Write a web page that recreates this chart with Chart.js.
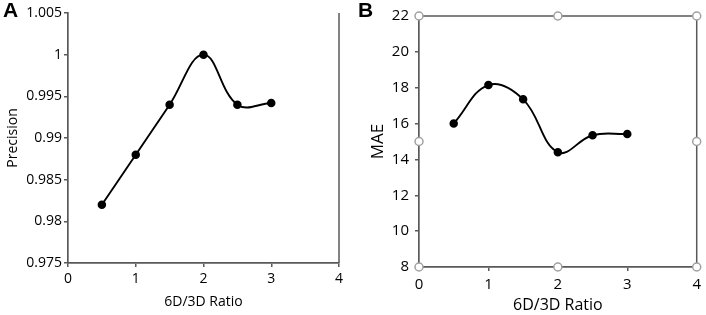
<!DOCTYPE html>
<html>
<head>
<meta charset="utf-8">
<script src="https://cdn.jsdelivr.net/npm/chart.js@4.4.1/dist/chart.umd.min.js"></script>
<style>
  body { margin: 0; background: #fff; }
  #wrap { position: relative; width: 706px; height: 315px; overflow: hidden; }
  canvas { position: absolute; top: 0; }
  .tag { position: absolute; font: bold 21px "Liberation Sans", Arial, sans-serif; color: #000; }
</style>
</head>
<body>
<div id="wrap">
  <canvas id="chartA" width="353" height="315" style="left:0"></canvas>
  <canvas id="chartB" width="353" height="315" style="left:353px"></canvas>
  <div class="tag" style="left:3px;top:-2px">A</div>
  <div class="tag" style="left:358px;top:-2px">B</div>
</div>
<script>
// shared x values (6D/3D ratio)
var ratios = [0.5, 1, 1.5, 2, 2.5, 3];
// panel A
var precision = [0.982, 0.988, 0.994, 1.000, 0.994, 0.9942];
var precisionTicks = [0.975, 0.98, 0.985, 0.99, 0.995, 1, 1.005];
// panel B
var mae = [16.0, 18.15, 17.35, 14.4, 15.35, 15.42];
var maeTicks = [8, 10, 12, 14, 16, 18, 20, 22];
var xTicks = [0, 1, 2, 3, 4];

var axisColor = '#595959';
var fontName = '"Open Sans", sans-serif';

function pts(ys) {
  return ratios.map(function(x, i) { return { x: x, y: ys[i] }; });
}

// right edge line for A, full box + excel handles for B
var framePlugin = {
  id: 'frame',
  afterDraw: function(chart, args, opts) {
    var a = chart.chartArea, ctx = chart.ctx;
    ctx.save();
    ctx.strokeStyle = axisColor;
    ctx.lineWidth = 1.5;
    ctx.beginPath();
    if (opts.box) {
      ctx.moveTo(a.left, a.top);
      ctx.lineTo(a.right, a.top);
    }
    ctx.moveTo(a.right, a.top);
    ctx.lineTo(a.right, a.bottom);
    ctx.stroke();
    if (opts.handles) {
      var mx = (a.left + a.right) / 2, my = (a.top + a.bottom) / 2;
      var hs = [[a.left, a.top], [mx, a.top], [a.right, a.top], [a.left, my], [a.right, my],
                [a.left, a.bottom], [mx, a.bottom], [a.right, a.bottom]];
      ctx.fillStyle = '#fff';
      ctx.strokeStyle = '#a0a0a0';
      ctx.lineWidth = 1.5;
      hs.forEach(function(h) {
        ctx.beginPath();
        ctx.arc(h[0], h[1], 4, 0, Math.PI * 2);
        ctx.fill();
        ctx.stroke();
      });
    }
    ctx.restore();
  }
};

function makeChart(id, ys, yTicks, cfg) {
  var ctx = document.getElementById(id).getContext('2d');
  return new Chart(ctx, {
    type: 'line',
    data: {
      datasets: [{
        data: pts(ys),
        borderColor: '#000',
        backgroundColor: '#000',
        borderWidth: 1.9,
        pointRadius: 3.3,
        pointBackgroundColor: '#000',
        tension: 0.4
      }]
    },
    options: {
      responsive: false,
      animation: false,
      layout: { padding: cfg.padding },
      plugins: {
        legend: { display: false },
        tooltip: { enabled: false },
        frame: { box: cfg.box, handles: cfg.box }
      },
      scales: {
        x: {
          type: 'linear',
          min: 0, max: 4,
          afterBuildTicks: function(s) { s.ticks = xTicks.map(function(v) { return { value: v }; }); },
          ticks: { color: '#000', padding: cfg.xPad, font: { family: fontName, size: cfg.tickSize } },
          grid: { drawOnChartArea: false, tickLength: 4, color: axisColor, lineWidth: 1.5 },
          border: { color: axisColor, width: 1.7 },
          title: { display: true, text: '6D/3D Ratio', color: '#000',
                   font: { family: fontName, size: cfg.titleSize }, padding: { top: 0, bottom: cfg.xTitlePad } },
          afterFit: function(s) { s.height = cfg.xHeight; }
        },
        y: {
          min: yTicks[0], max: yTicks[yTicks.length - 1],
          afterBuildTicks: function(s) { s.ticks = yTicks.map(function(v) { return { value: v }; }); },
          ticks: { color: '#000', padding: cfg.yPad, font: { family: fontName, size: cfg.tickSize },
                   callback: function(v) { return String(+v.toFixed(4)); } },
          grid: { drawOnChartArea: false, tickLength: 4, color: axisColor, lineWidth: 1.5 },
          border: { color: axisColor, width: 1.7 },
          title: { display: true, text: cfg.yTitle, color: '#000',
                   font: { family: fontName, size: cfg.yTitleSize }, padding: { top: cfg.yTitlePad, bottom: 0 } },
          afterFit: function(s) { s.width = cfg.yWidth; }
        }
      }
    },
    plugins: [framePlugin]
  });
}

makeChart('chartA', precision, precisionTicks, {
  padding: { top: 13, right: 14, left: 0, bottom: 0 },
  box: false, tickSize: 14, titleSize: 14, yTitle: 'Precision', yTitleSize: 14,
  xPad: 4, yPad: 2, xHeight: 52, yWidth: 68, xTitlePad: 5, yTitlePad: 5
});

makeChart('chartB', mae, maeTicks, {
  padding: { top: 16, right: 6, left: 0, bottom: 0 },
  box: true, tickSize: 15, titleSize: 16, yTitle: 'MAE', yTitleSize: 17,
  xPad: 5, yPad: 6, xHeight: 48, yWidth: 66, xTitlePad: 0, yTitlePad: 15
});
</script>
</body>
</html>
